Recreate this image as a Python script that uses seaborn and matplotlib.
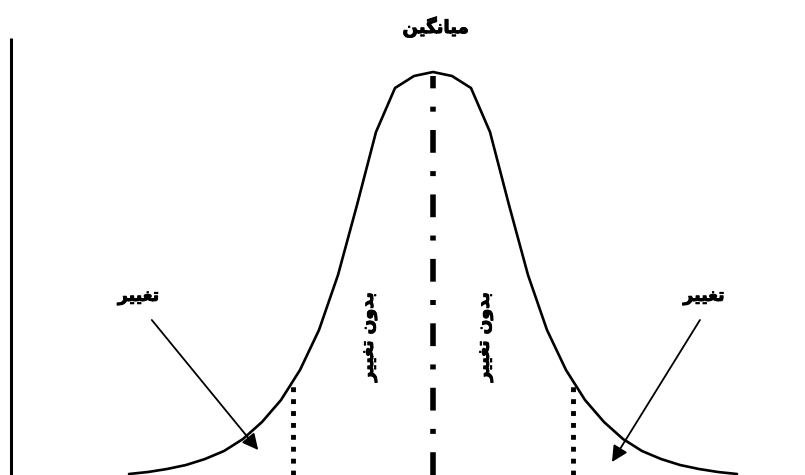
import pandas as pd
import matplotlib.pyplot as plt
import matplotlib.patheffects as pe
import seaborn as sns

# curve points (x in steps from the mean, y = height)
curve_x = list(range(-16, 17))
curve_y = [1, 3, 6, 10, 16, 24, 36, 53, 75, 105, 145, 200, 270, 343, 387, 399,
           403,
           399, 387, 343, 270, 200, 145, 105, 75, 53, 36, 24, 16, 10, 6, 3, 1]

# labels (Persian, written in shaped presentation forms, visual order)
mean_label = "\uFEE6\uFEF4\uFB95\uFEE7\uFE8E\uFEF4\uFEE3"          # میانگین
change_label = "\uFEAE\uFEF4\uFEF4\uFED0\uFE97"                    # تغییر
no_change_label = change_label + " " + "\uFEE5\uFEED\uFEAA\uFE91"  # بدون تغییر

sigma_x = 7.35

sns.set_theme(style="white")
plt.rcParams['font.family'] = ['DejaVu Sans']

df = pd.DataFrame({'x': curve_x, 'y': curve_y})

fig = plt.figure(figsize=(8.05, 4.75), dpi=100)
ax = fig.add_axes([0, 0, 1, 1])
sns.lineplot(data=df, x='x', y='y', color='black', linewidth=1.9, ax=ax)

# vertical axis line on the left
ax.plot([-22.2, -22.2], [0, 437], color='black', linewidth=2.2, solid_capstyle='butt')

# mean line (dash-dot)
ax.plot([0, 0], [0, 399], color='black', linewidth=4, dashes=(4.1, 3.3, 0.9, 3.3),
        dash_capstyle='butt')

# dotted lines at +- one deviation
for sx in (-sigma_x, sigma_x):
    ax.plot([sx, sx], [0, 95], color='black', linewidth=3.5, dashes=(1, 1.45),
            dash_capstyle='butt')

# labels (slight stroke to get the heavy look)
heavy = [pe.withStroke(linewidth=0.7, foreground='black')]
txt = dict(ha='center', va='center', fontweight='bold', color='black', path_effects=heavy)
ax.text(0.15, 448, mean_label, fontsize=13, **txt)
ax.text(-15.5, 179, change_label, fontsize=12.5, **txt)
ax.text(14.26, 179, change_label, fontsize=12.5, **txt)
ax.text(-3.42, 138, no_change_label, fontsize=12.5, rotation=90, **txt)
ax.text(2.68, 138, no_change_label, fontsize=12.5, rotation=90, **txt)

# arrows
arrow = dict(arrowstyle='-|>', color='black', lw=1.3, mutation_scale=24,
             shrinkA=0, shrinkB=0)
ax.annotate('', xy=(-9.2, 25), xytext=(-14.8, 155), arrowprops=arrow)
ax.annotate('', xy=(9.42, 13), xytext=(14.05, 155), arrowprops=arrow)

ax.set_xlim(-433 / 19, 372 / 19)
ax.set_ylim(0, 475)
ax.axis('off')

plt.savefig('out.png', dpi=100)
